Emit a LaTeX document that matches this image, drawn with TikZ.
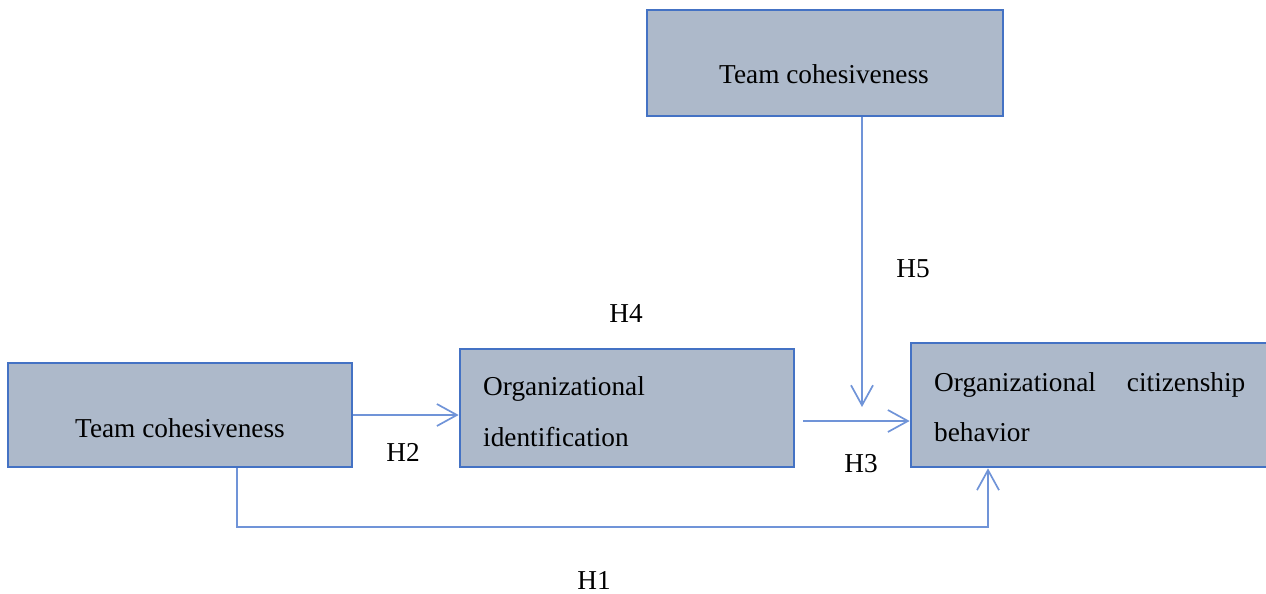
\documentclass[tikz,border=0pt]{standalone}
\usepackage{fontspec}
\setmainfont{Liberation Serif}
\usetikzlibrary{arrows.meta}
\definecolor{boxfill}{HTML}{ADB9CA}
\definecolor{boxline}{HTML}{4472C4}
\definecolor{arrline}{HTML}{7094D8}
\begin{document}
\begin{tikzpicture}[x=1pt,y=-1pt,
  varbox/.style={draw=boxline,line width=2.7pt,fill=boxfill,inner sep=0pt,rectangle},
  lbl/.style={inner sep=0pt,anchor=base,font=\fontsize{27.3}{32}\selectfont},
  lblw/.style={inner sep=0pt,anchor=base west,font=\fontsize{27.3}{32}\selectfont},
  conn/.style={draw=arrline,line width=1.7pt,-{Straight Barb[length=20pt,width=22pt,line width=1.7pt]}}]
\clip (0,0) rectangle (1266,594);
\useasboundingbox (0,0) rectangle (1266,594);
% boxes
\node[varbox,minimum width=356pt,minimum height=106pt] (top) at (825,63) {};
\node[varbox,minimum width=344pt,minimum height=104pt] (left) at (180,415) {};
\node[varbox,minimum width=334pt,minimum height=118pt] (mid) at (627,408) {};
\node[varbox,minimum width=364pt,minimum height=124pt] (right) at (1093,405) {};
% texts
\node[lbl] (toptext) at (824,83) {Team cohesiveness};
\node[lbl] (lefttext) at (180,437) {Team cohesiveness};
\node[lblw] (midtext1) at (483,395) {Organizational};
\node[lblw] (midtext2) at (483,446) {identification};
\node[lblw] (righttext1) at (934,391) {\makebox[311pt][l]{Organizational\hfill citizenship}};
\node[lblw] (righttext2) at (934,441) {behavior};
% labels
\node[lbl] (h1) at (594,589) {H1};
\node[lbl] (h2) at (403,461) {H2};
\node[lbl] (h3) at (861,472) {H3};
\node[lbl] (h4) at (626,322) {H4};
\node[lbl] (h5) at (913,277) {H5};
% connectors
\coordinate (h3start) at (803,421);
\coordinate (h5end) at (862,407);
\coordinate (h1a) at (237,527);
\coordinate (h1b) at (988,527);
\draw[conn] (left.east) -- (left.east -| mid.west);
\draw[conn] (h3start) -- (h3start -| right.west);
\draw[conn] (h5end |- top.south) -- (h5end);
\draw[conn] (h1a |- left.south) -- (h1a) -- (h1b) -- (h1b |- right.south);
\end{tikzpicture}
\end{document}
